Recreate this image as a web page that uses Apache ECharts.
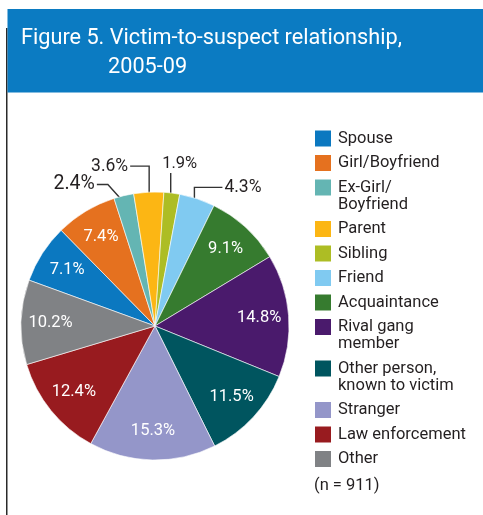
<!DOCTYPE html>
<html>
<head>
<meta charset="utf-8">
<script src="https://cdn.jsdelivr.net/npm/echarts@6/dist/echarts.min.js"></script>
<style>
  html, body { margin: 0; padding: 0; background: #fff; }
  #chart { width: 483px; height: 515px; }
</style>
</head>
<body>
<div id="chart"></div>
<script>
// Victim-to-suspect relationship, share of victims (%)
const categories = [
  'Spouse', 'Girl/Boyfriend', 'Ex-Girl/\nBoyfriend', 'Parent', 'Sibling', 'Friend',
  'Acquaintance', 'Rival gang\nmember', 'Other person,\nknown to victim',
  'Stranger', 'Law enforcement', 'Other'
];
const shares = [7.1, 7.4, 2.4, 3.6, 1.9, 4.3, 9.1, 14.8, 11.5, 15.3, 12.4, 10.2];
const titleLines = ['Figure 5. Victim-to-suspect relationship,', '2005-09'];
const sampleNote = '(n = 911)';

const colors = [
  '#0b78c0', '#e5711f', '#64b5b3', '#fcb614', '#adbd24', '#80caf1',
  '#367b2f', '#4a1a6c', '#00555f', '#9496c9', '#981b1f', '#808285'
];

const FONT = 'Roboto';
const INK = '#231f20';
const CENTER = [155, 326];
const START = 160;

// Leader-line shapes for the thin slices: bend offset from the line start,
// horizontal run after the bend, label font size.
const callouts = {
  'Ex-Girl/\nBoyfriend': { bend: [-18, -20], run: -11, size: 19.5 },
  'Parent':              { bend: [0, -35], run: -19, size: 17.5 },
  'Sibling':             { bend: [0, -29], run: 0, size: 16.5, above: 9 },
  'Friend':              { bend: [0, -20], run: 28, size: 17.5 }
};

const sliceData = categories.map((name, i) => ({
  name, value: shares[i], itemStyle: { color: colors[i] }
}));

const labelData = categories.map((name, i) => {
  const c = callouts[name];
  return {
    name,
    value: shares[i],
    label: c
      ? { position: 'outside', color: INK, fontSize: c.size }
      : { position: 'inside', color: '#fff', fontSize: 16.5 },
    labelLine: { show: !!c }
  };
});

// Legend: rich-text squares so the swatch sits on the first text line
const rich = {
  t: { fontFamily: FONT, fontSize: 16.5, color: INK, lineHeight: 17, padding: [0, 0, 0, 7] },
  gap: { width: 16, height: 16 }
};
colors.forEach((c, i) => { rich['sq' + i] = { width: 16, height: 16, backgroundColor: c }; });

const chart = echarts.init(document.getElementById('chart'), null, { renderer: 'canvas' });

chart.setOption({
  animation: false,
  graphic: [
    { type: 'line', z: -2, shape: { x1: 6.75, y1: 28, x2: 6.75, y2: 515 },
      style: { stroke: '#2a2a2a', lineWidth: 1.5 } },
    { type: 'rect', z: -1, shape: { x: 7.5, y: 9, width: 476, height: 83.5 },
      style: { fill: '#0b7bc2' } }
  ],
  title: [
    {
      text: titleLines[0] + '\n{ind|' + titleLines[1] + '}',
      left: 21, top: 24, padding: 0, z: 10,
      textStyle: {
        color: '#fff', fontFamily: FONT, fontSize: 21.7, fontWeight: 'normal', lineHeight: 29,
        rich: { ind: { color: '#fff', fontFamily: FONT, fontSize: 21.7, lineHeight: 29, padding: [0, 0, 0, 87] } }
      }
    },
    {
      text: sampleNote, left: 314, top: 477, padding: 0,
      textStyle: { color: INK, fontFamily: FONT, fontSize: 16.5, fontWeight: 'normal', lineHeight: 18 }
    }
  ],
  legend: {
    orient: 'vertical', left: 309, top: 130, padding: 0,
    itemWidth: 0, itemHeight: 0, itemGap: 7.5,
    data: categories,
    formatter: name => {
      const i = categories.indexOf(name);
      return name.split('\n')
        .map((line, k) => (k ? '{gap|}' : '{sq' + i + '|}') + '{t|' + line + '}')
        .join('\n');
    },
    textStyle: { rich }
  },
  series: [
    {
      type: 'pie', center: CENTER, radius: 134, startAngle: START, clockwise: true,
      label: { show: false }, labelLine: { show: false },
      itemStyle: { borderColor: '#fff', borderWidth: 0.6 },
      emphasis: { disabled: true },
      data: sliceData
    },
    {
      // label carrier: same slices, transparent, ring sets the inside label radius
      type: 'pie', center: CENTER, radius: [78, 125], startAngle: START, clockwise: true,
      silent: true, avoidLabelOverlap: false,
      itemStyle: { color: 'rgba(0,0,0,0)' },
      emphasis: { disabled: true },
      label: { show: true, fontFamily: FONT, formatter: p => p.value + '%' },
      labelLine: { length: 10, length2: 10, lineStyle: { color: '#333', width: 1.4 } },
      labelLayout: p => {
        const c = callouts[categories[p.dataIndex]];
        if (!c || !p.labelLinePoints) return {};
        const s = p.labelLinePoints[0];
        const b = [s[0] + c.bend[0], s[1] + c.bend[1]];
        if (c.above != null) {
          return {
            x: b[0] + c.above, y: b[1] - 1, align: 'center', verticalAlign: 'bottom',
            labelLinePoints: [s, b]
          };
        }
        const e = [b[0] + c.run, b[1]];
        return {
          x: e[0] + (c.run < 0 ? -2 : 2), y: e[1],
          align: c.run < 0 ? 'right' : 'left', verticalAlign: 'middle',
          labelLinePoints: [s, b, e]
        };
      },
      data: labelData
    }
  ]
});
</script>
</body>
</html>
